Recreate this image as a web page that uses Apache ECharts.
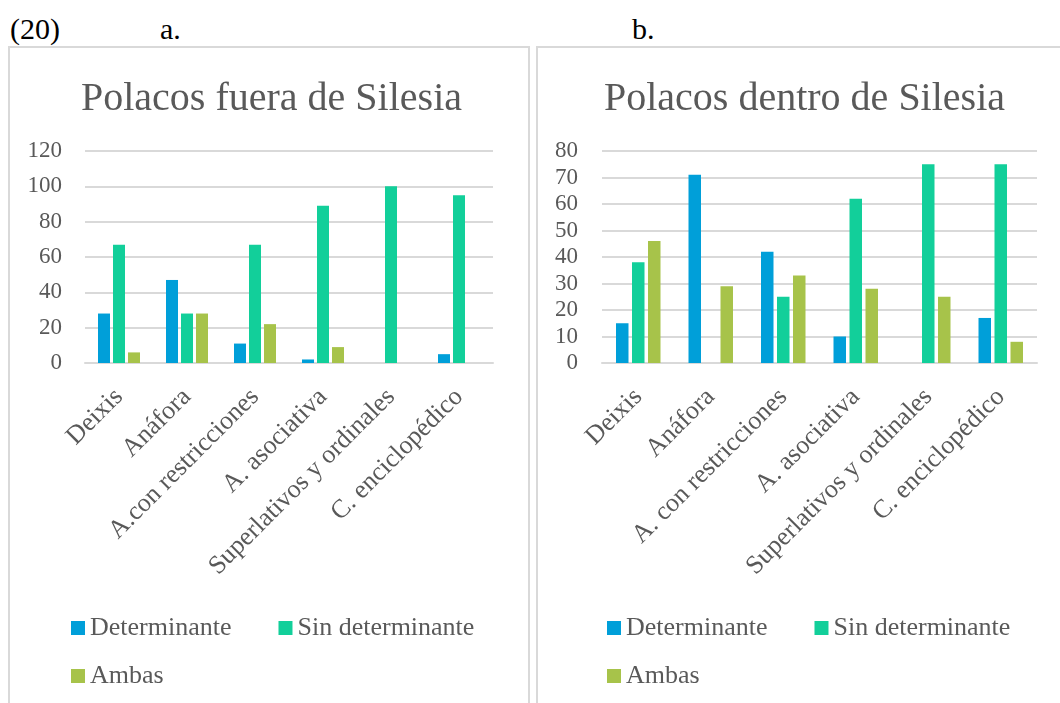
<!DOCTYPE html>
<html lang="es">
<head>
  <meta charset="utf-8">
  <title>Polacos fuera / dentro de Silesia</title>
  <script src="https://cdn.jsdelivr.net/npm/echarts@6/dist/echarts.min.js"></script>
  <style>
    body { margin: 0; width: 1060px; height: 703px; overflow: hidden; background: #fff; position: relative; font-family: "Liberation Serif", serif; }
    .lbl { position: absolute; top: 11px; font-size: 30px; color: #000; line-height: 36px; }
    .box { position: absolute; top: 46px; border: 2px solid #d9d9d9; }
  </style>
</head>
<body>
  <div class="lbl" style="left: 10px;">(20)</div>
  <div class="lbl" style="left: 160px;">a.</div>
  <div class="lbl" style="left: 632px;">b.</div>

  <div id="chartA" class="box" style="left: 8px; width: 518px; height: 700px;"></div>
  <div id="chartB" class="box" style="left: 536px; width: 540px; height: 700px;"></div>

  <script>
    // categorías de cada gráfico
    const catsA = ['Deixis', 'Anáfora', 'A.con restricciones', 'A. asociativa', 'Superlativos y ordinales', 'C. enciclopédico'];
    const catsB = ['Deixis', 'Anáfora', 'A. con restricciones', 'A. asociativa', 'Superlativos y ordinales', 'C. enciclopédico'];

    const seriesNames = ['Determinante', 'Sin determinante', 'Ambas'];

    // a. Polacos fuera de Silesia
    const detA = [28, 47, 11, 2, 0, 5];
    const sinA = [67, 28, 67, 89, 100, 95];
    const ambA = [6, 28, 22, 9, 0, 0];

    // b. Polacos dentro de Silesia
    const detB = [15, 71, 42, 10, 0, 17];
    const sinB = [38, 0, 25, 62, 75, 75];
    const ambB = [46, 29, 33, 28, 25, 8];

    const colors = ['#009fd9', '#12cf9a', '#a7c34a'];
    const txt = '#595959';
    const font = 'Liberation Serif';

    function makeChart(id, cfg) {
      const chart = echarts.init(document.getElementById(id));
      const legendBase = {
        left: cfg.legendLeft,
        icon: 'rect',
        itemWidth: 14,
        itemHeight: 14,
        itemGap: 47,
        textStyle: { color: txt, fontFamily: font, fontSize: 26 },
        selectedMode: false
      };
      chart.setOption({
        animation: false,
        color: colors,
        title: {
          text: cfg.title,
          left: cfg.titleLeft,
          top: 26,
          textStyle: { color: txt, fontFamily: font, fontSize: 40, fontWeight: 'normal' }
        },
        legend: [
          Object.assign({ top: 562, data: seriesNames.slice(0, 2) }, legendBase),
          Object.assign({ top: 610, data: seriesNames.slice(2) }, legendBase)
        ],
        grid: { left: cfg.gridLeft, top: 103, width: cfg.gridWidth, height: 212 },
        xAxis: {
          type: 'category',
          data: cfg.cats,
          axisLine: { lineStyle: { color: '#d9d9d9', width: 2 } },
          axisTick: { show: false },
          axisLabel: { rotate: 45, interval: 0, margin: 30, color: txt, fontFamily: font, fontSize: 26 }
        },
        yAxis: {
          type: 'value',
          min: 0,
          max: cfg.max,
          interval: cfg.interval,
          axisLabel: { margin: cfg.yMargin, color: txt, fontFamily: font, fontSize: 23 },
          splitLine: { lineStyle: { color: '#d9d9d9', width: 2 } }
        },
        series: seriesNames.map((name, i) => ({
          name: name,
          type: 'bar',
          barWidth: cfg.barWidth,
          barGap: cfg.barGap,
          data: cfg.values[i]
        }))
      });
      return chart;
    }

    makeChart('chartA', {
      title: 'Polacos fuera de Silesia',
      titleLeft: 66,
      cats: catsA,
      values: [detA, sinA, ambA],
      max: 120,
      interval: 20,
      gridLeft: 75,
      gridWidth: 408,
      yMargin: 23,
      barWidth: 12,
      barGap: '25%',
      legendLeft: 56
    });

    makeChart('chartB', {
      title: 'Polacos dentro de Silesia',
      titleLeft: 61,
      cats: catsB,
      values: [detB, sinB, ambB],
      max: 80,
      interval: 10,
      gridLeft: 64,
      gridWidth: 435,
      yMargin: 24,
      barWidth: 12.5,
      barGap: '28%',
      legendLeft: 64
    });
  </script>
</body>
</html>
